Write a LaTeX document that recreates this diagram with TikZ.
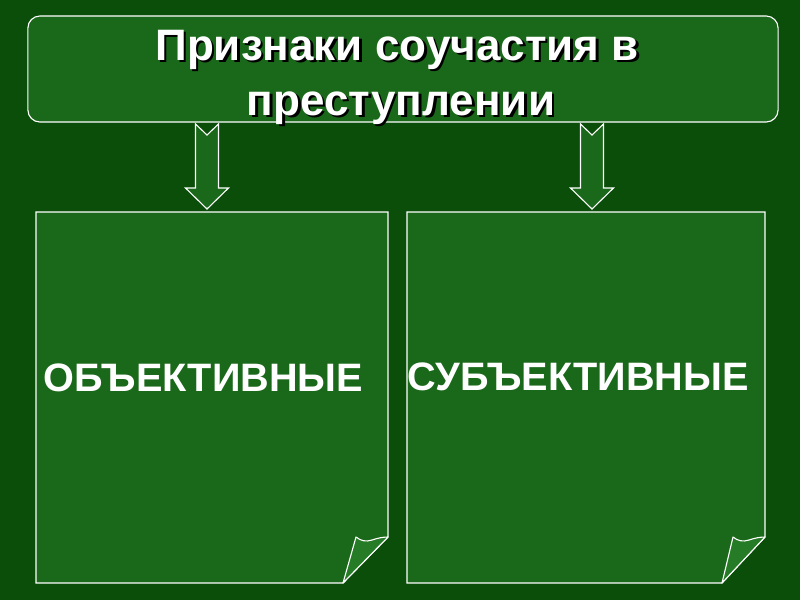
\documentclass[tikz,border=0pt]{standalone}
\usepackage{fontspec}
\setmainfont{Liberation Sans}
\usetikzlibrary{calc}

\definecolor{slidebg}{RGB}{10,78,10}
\definecolor{boxfill}{RGB}{26,104,26}
\definecolor{flapfill}{RGB}{38,124,38}

% weisser Text mit schwarzem Schatten
\newcommand\shadowtext[1]{\rlap{\hspace{1.8pt}\raisebox{-1.8pt}{\color{black}#1}}#1}

\tikzset{
  frame/.style={draw=white, line width=0.8pt, fill=boxfill},
  flap/.style={draw=white, line width=0.8pt, fill=flapfill, line join=round},
  headtext/.style={text=white, font=\fontsize{31.3}{37}\selectfont\bfseries, anchor=base, inner sep=0pt},
  paneltext/.style={text=white, font=\fontsize{28.2}{34}\selectfont\bfseries, anchor=base, inner sep=0pt},
}

\begin{document}
\begin{tikzpicture}[x=0.025cm, y=-0.025cm]
\fill[slidebg] (0,0) rectangle (800,600);

% Titel
\node[frame, rounded corners=0.3cm, minimum width=18.75cm, minimum height=2.65cm] (title) at (403,69) {};
\node[headtext] (line1) at (397,60) {\shadowtext{Признаки соучастия в}};
\node[headtext] (line2) at (401,115) {\shadowtext{преступлении}};

% Pfeile
\foreach \cx in {207,592} {
  \draw[frame] (\cx-11.5,124) -- (\cx,135) -- (\cx+11.5,124) -- (\cx+11.5,188) -- (\cx+21.5,188)
    -- (\cx,209) -- (\cx-21.5,188) -- (\cx-11.5,188) -- cycle;
}

% Blaetter
\draw[frame] (36,212) -- (388,212) -- (388,537) -- (343,583) -- (36,583) -- cycle;
\draw[flap] (343,583) -- (356,537) .. controls (361,541) and (366,542) .. (372,540)
  .. controls (378,538) and (383,537) .. (388,537) -- cycle;
\draw[frame] (407,212) -- (765,212) -- (765,537) -- (722,583) -- (407,583) -- cycle;
\draw[flap] (722,583) -- (733,537) .. controls (738,541) and (743,542) .. (749,540)
  .. controls (755,538) and (760,537) .. (765,537) -- cycle;

\node[paneltext] (objective) at (203.5,391) {ОБЪЕКТИВНЫЕ};
\node[paneltext] (subjective) at (578,390) {СУБЪЕКТИВНЫЕ};
\end{tikzpicture}
\end{document}
